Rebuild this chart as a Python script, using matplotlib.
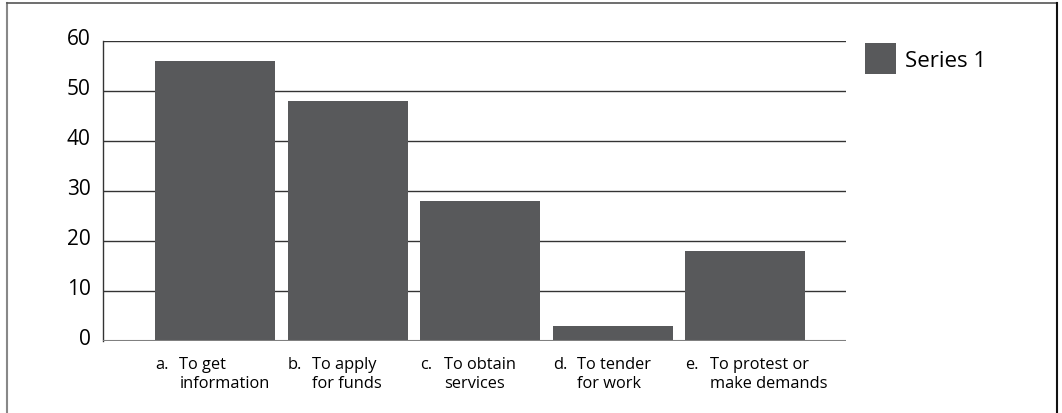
import matplotlib.pyplot as plt
from matplotlib.lines import Line2D
from matplotlib.transforms import ScaledTranslation

plt.rcParams['font.family'] = ['Open Sans', 'DejaVu Sans']

letters = ['a.', 'b.', 'c.', 'd.', 'e.']
categories = ['To get\ninformation', 'To apply\nfor funds', 'To obtain\nservices',
              'To tender\nfor work', 'To protest or\nmake demands']
values = [56, 48, 28, 3, 18]
yticks = [0, 10, 20, 30, 40, 50, 60]

bar_color = '#58595b'
W, H = 1062, 414

fig = plt.figure(figsize=(W / 100, H / 100), dpi=100)
ax = fig.add_axes([103 / W, (H - 342) / H, (846 - 103) / W, 300 / H])

x = list(range(len(values)))
width = 0.906
ax.bar(x, values, width=width, color=bar_color, label='Series 1', zorder=3)

ax.set_xlim(-0.845, 4.76)
ax.set_ylim(0, 60)

# horizontal gridlines over the full plot width
for t in yticks:
    ax.axhline(t, color='#333333', lw=1.0, zorder=1)
ax.axhline(0, color='#808080', lw=1.5, zorder=4)

ax.set_xticks([])
ax.set_yticks(yticks)
ax.set_yticklabels([str(t) for t in yticks], fontsize=15)
ax.tick_params(axis='y', length=0, pad=9)
# lift the numbers a little above their gridline
off = ScaledTranslation(0, 5 / 100, fig.dpi_scale_trans)
for lab in ax.get_yticklabels():
    lab.set_transform(lab.get_transform() + off)

for s in ['top', 'right', 'bottom']:
    ax.spines[s].set_visible(False)
ax.spines['left'].set_color('#333333')
ax.spines['left'].set_linewidth(1.0)

# two-part category labels under each bar
for i, (let, cat) in enumerate(zip(letters, categories)):
    ax.annotate(let, xy=(i - width / 2, 0), xycoords=('data', 'axes fraction'),
                xytext=(0, -11), textcoords='offset points',
                ha='left', va='top', fontsize=11.8, linespacing=1.25)
    ax.annotate(cat, xy=(i - width / 2, 0), xycoords=('data', 'axes fraction'),
                xytext=(17.5, -11), textcoords='offset points',
                ha='left', va='top', fontsize=11.8, linespacing=1.25)

ax.legend(loc='upper left', bbox_to_anchor=(865 / W, (H - 44) / H),
          bbox_transform=fig.transFigure, frameon=False, fontsize=16,
          handlelength=1.4, handleheight=1.77, handletextpad=0.4,
          borderpad=0, borderaxespad=0)

# frame around the figure
fig.add_artist(Line2D([6.5 / W, 6.5 / W], [0, (H - 4) / H], transform=fig.transFigure,
                      color='#888888', lw=1.5))
fig.add_artist(Line2D([6.5 / W, 1057 / W], [(H - 4) / H, (H - 4) / H],
                      transform=fig.transFigure, color='#555555', lw=1.2))
fig.add_artist(Line2D([1057 / W, 1057 / W], [0, (H - 4) / H], transform=fig.transFigure,
                      color='#111111', lw=1.5))

fig.savefig('out.png', dpi=100)
